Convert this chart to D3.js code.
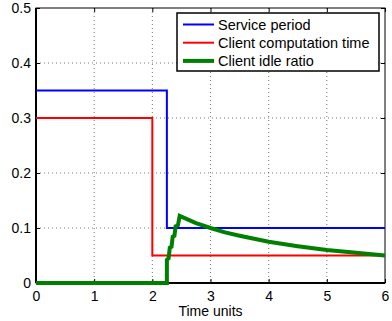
<!DOCTYPE html>
<html>
<head>
<meta charset="utf-8">
<script src="https://cdn.jsdelivr.net/npm/d3@7"></script>
<style>
  body { margin: 0; background: #fff; }
  svg { display: block; font-family: "Liberation Sans", Arial, sans-serif; }
</style>
</head>
<body>
<svg id="chart" width="392" height="321"></svg>
<script>
// data
const servicePeriod = [[0, 0.35], [2.25, 0.35], [2.25, 0.1], [6, 0.1]];
const computationTime = [[0, 0.3], [2.0, 0.3], [2.0, 0.05], [6, 0.05]];
const idleRatio = [
  [0, 0], [2.25, 0], [2.25, 0.042], [2.28, 0.045], [2.30, 0.064], [2.33, 0.066],
  [2.35, 0.084], [2.38, 0.086], [2.40, 0.103], [2.44, 0.105], [2.47, 0.122],
  [2.75, 0.109], [3, 0.1], [3.25, 0.092], [3.5, 0.086], [4, 0.075],
  [4.5, 0.067], [5, 0.06], [5.5, 0.055], [6, 0.05]
];
const xTicks = [0, 1, 2, 3, 4, 5, 6];
const yTicks = [0, 0.1, 0.2, 0.3, 0.4, 0.5];
const legendLabels = ["Service period", "Client computation time", "Client idle ratio"];

const svg = d3.select('#chart');
const margin = {top: 8, left: 36, right: 7, bottom: 38};
const width = 392, height = 321;
const innerW = width - margin.left - margin.right;
const innerH = height - margin.top - margin.bottom;

const x = d3.scaleLinear().domain([0, 6]).range([0, innerW]);
const y = d3.scaleLinear().domain([0, 0.5]).range([innerH, 0]);

const g = svg.append('g').attr('transform', `translate(${margin.left}, ${margin.top})`);

// grid
g.append('g').selectAll('line').data(xTicks.slice(1, -1)).join('line')
  .attr('x1', d => x(d)).attr('x2', d => x(d))
  .attr('y1', 0).attr('y2', innerH)
  .attr('stroke', '#555').attr('stroke-width', 0.8).attr('stroke-dasharray', '1,3');
g.append('g').selectAll('line').data(yTicks.slice(1, -1)).join('line')
  .attr('y1', d => y(d)).attr('y2', d => y(d))
  .attr('x1', 0).attr('x2', innerW)
  .attr('stroke', '#555').attr('stroke-width', 0.8).attr('stroke-dasharray', '1,3');

// axes
const xAxis = g.append('g').attr('transform', `translate(0, ${innerH})`)
  .call(d3.axisBottom(x).tickValues(xTicks).tickSize(-4).tickPadding(8).tickFormat(d3.format('d')));
const yAxis = g.append('g')
  .call(d3.axisLeft(y).tickValues(yTicks).tickSize(-4).tickPadding(5).tickFormat(d => d === 0 ? '0' : d3.format('.1f')(d)));
const xTop = g.append('g')
  .call(d3.axisTop(x).tickValues(xTicks).tickSize(-4).tickFormat(''));
const yRight = g.append('g').attr('transform', `translate(${innerW}, 0)`)
  .call(d3.axisRight(y).tickValues(yTicks).tickSize(-4).tickFormat(''));

[xAxis, yAxis, xTop, yRight].forEach(a => {
  a.select('.domain').remove();
  a.selectAll('.tick line').attr('stroke', '#000');
  a.selectAll('text').attr('font-size', 14).attr('fill', '#000')
    .attr('font-family', '"Liberation Sans", Arial, sans-serif');
});

// box
g.append('rect').attr('width', innerW).attr('height', innerH)
  .attr('fill', 'none').attr('stroke', '#000').attr('stroke-width', 1);
g.append('line').attr('x1', 0).attr('x2', 0).attr('y1', 0).attr('y2', innerH)
  .attr('stroke', '#000').attr('stroke-width', 2);
g.append('line').attr('x1', 0).attr('x2', innerW).attr('y1', innerH).attr('y2', innerH)
  .attr('stroke', '#000').attr('stroke-width', 2);

const line = d3.line().x(d => x(d[0])).y(d => y(d[1]));

g.append('path').datum(servicePeriod).attr('d', line)
  .attr('fill', 'none').attr('stroke', '#0000ff').attr('stroke-width', 2);
g.append('path').datum(computationTime).attr('d', line)
  .attr('fill', 'none').attr('stroke', '#ff0000').attr('stroke-width', 2);
g.append('path').datum(idleRatio).attr('d', line)
  .attr('fill', 'none').attr('stroke', '#007f00').attr('stroke-width', 4)
  .attr('stroke-linejoin', 'miter');

// x label
g.append('text').attr('x', x(3)).attr('y', innerH + 33)
  .attr('text-anchor', 'middle').attr('font-size', 14).text('Time units');

// legend
const legendColors = ['#0000ff', '#ff0000', '#007f00'];
const legendWidths = [2, 2, 4];
const lg = svg.append('g').attr('transform', 'translate(177, 13)');
lg.append('rect').attr('width', 202).attr('height', 58)
  .attr('fill', '#fff').attr('stroke', '#000').attr('stroke-width', 1.5);
legendLabels.forEach((lab, i) => {
  const cy = 11.5 + i * 18.2;
  lg.append('line').attr('x1', 6).attr('x2', 37).attr('y1', cy).attr('y2', cy)
    .attr('stroke', legendColors[i]).attr('stroke-width', legendWidths[i]);
  lg.append('text').attr('x', 41).attr('y', cy).attr('dy', '0.35em')
    .attr('font-size', 14.5).text(lab);
});
</script>
</body>
</html>
